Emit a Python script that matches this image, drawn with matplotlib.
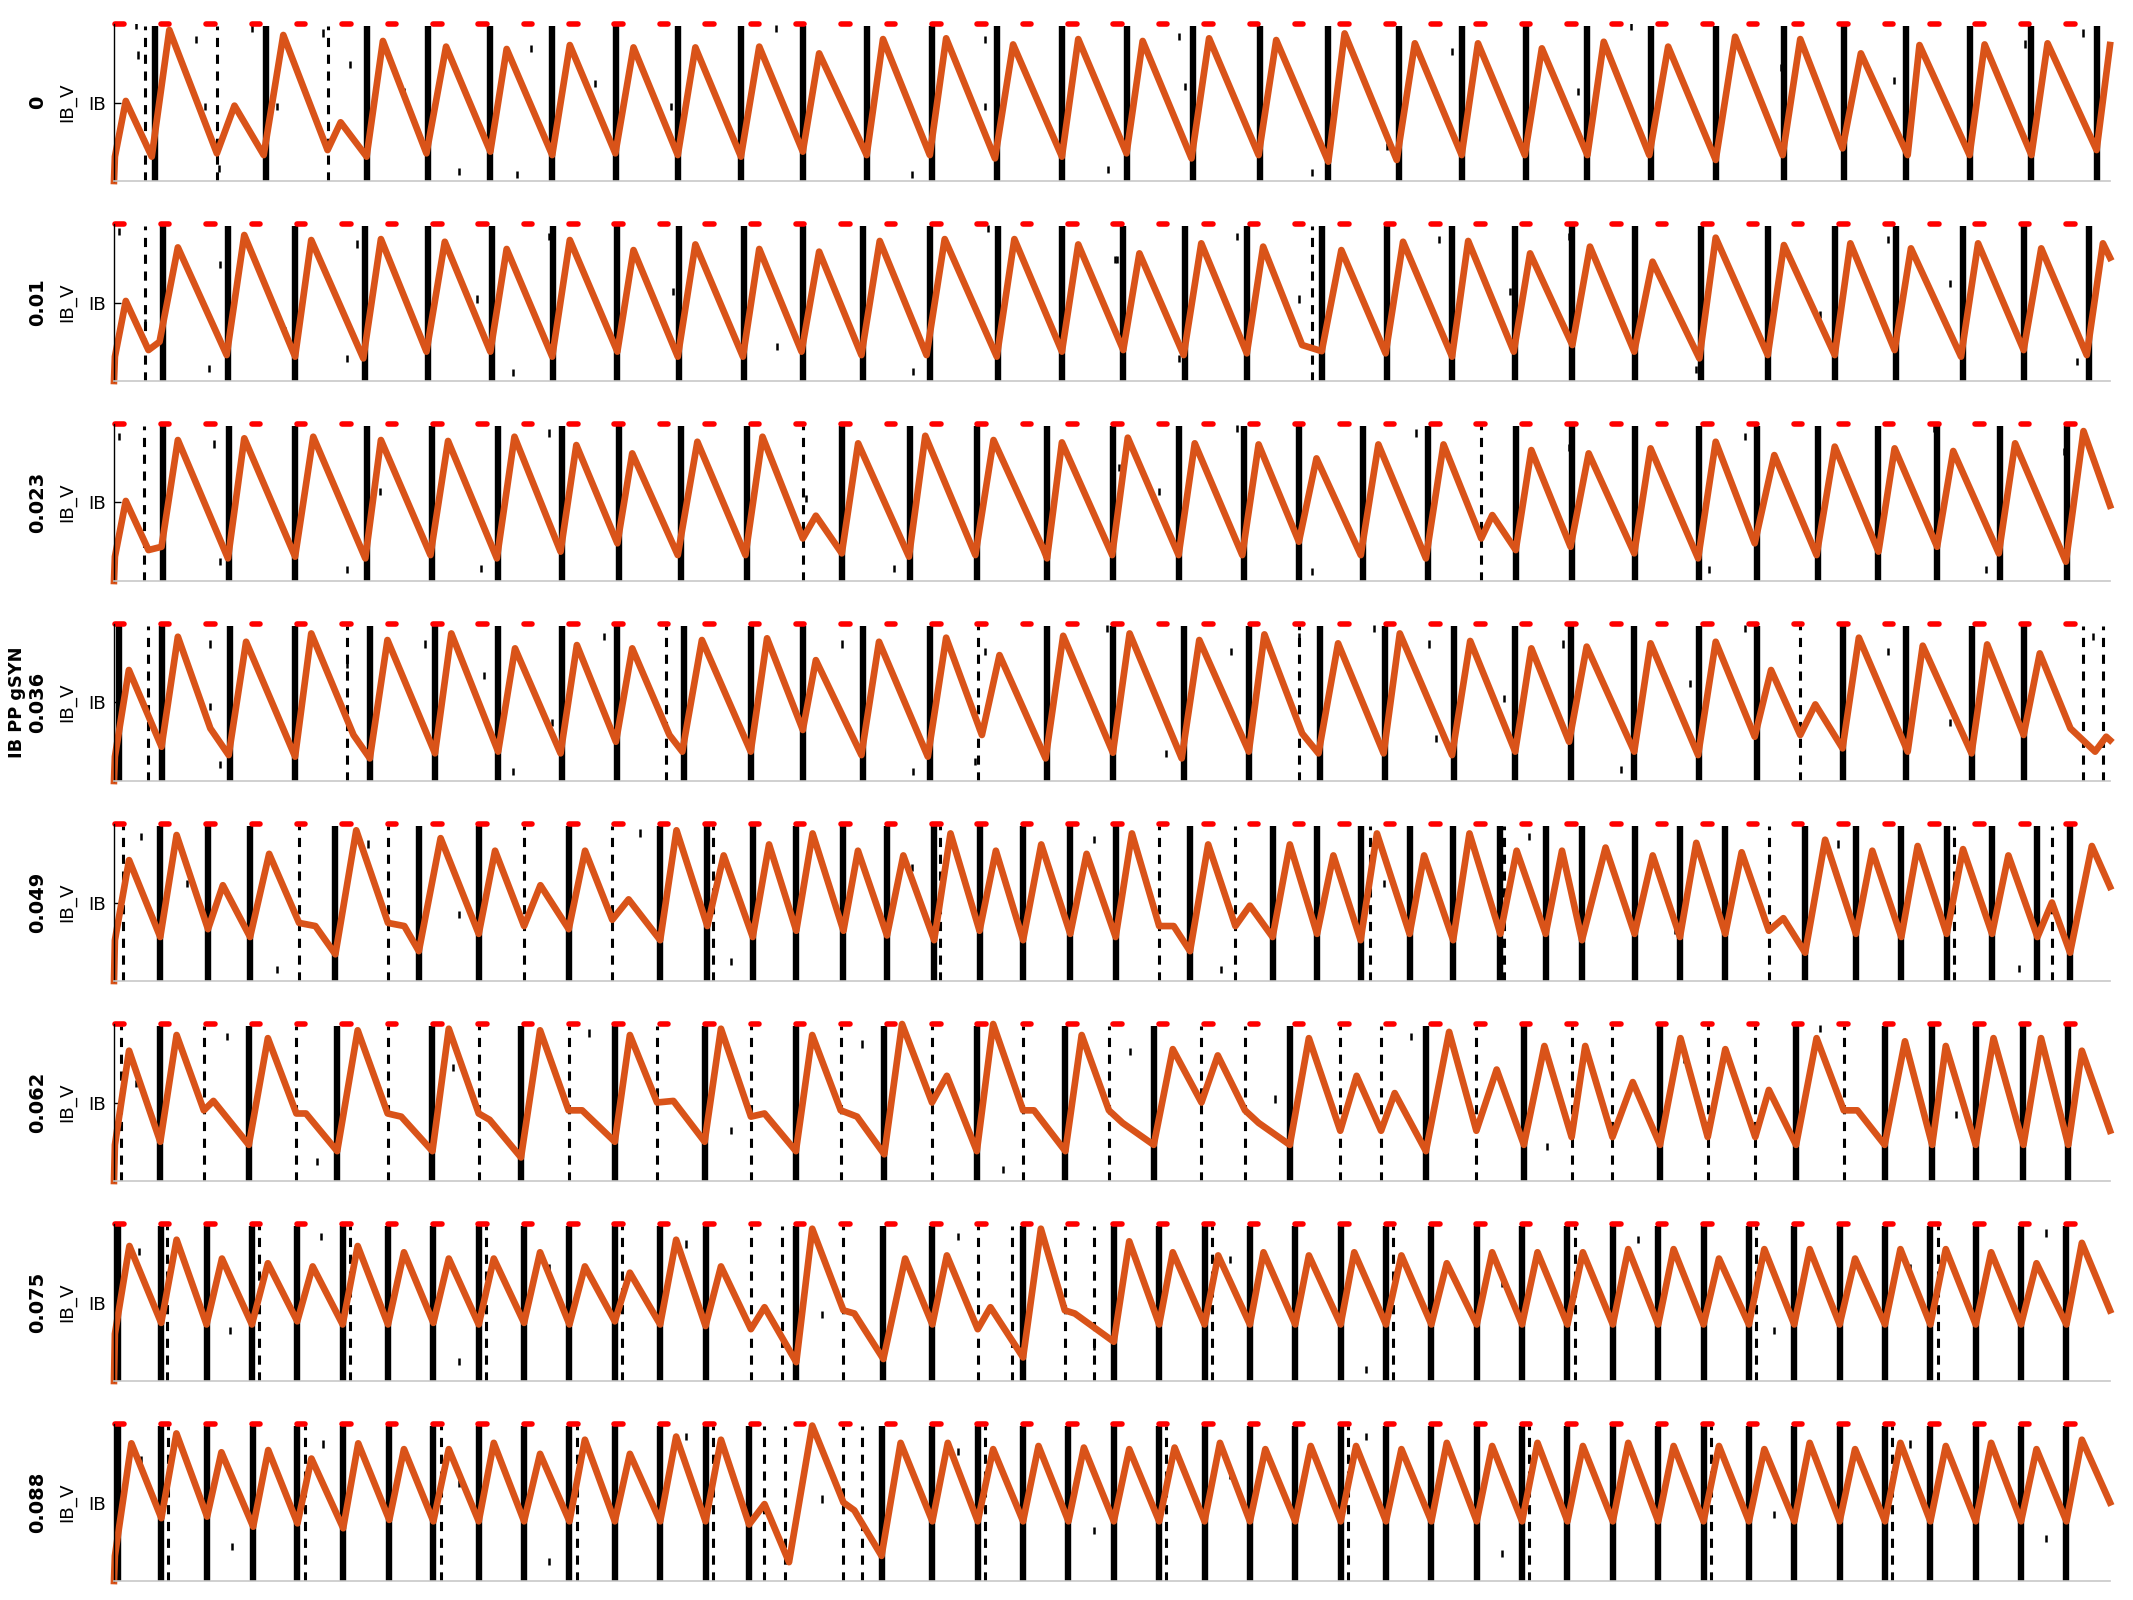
import matplotlib.pyplot as plt

# IB PP gSYN values, one panel each
gsyn = ["0", "0.01", "0.023", "0.036", "0.049", "0.062", "0.075", "0.088"]

# stimulus pulse onsets (ms)
stim = [0, 25, 50, 75, 100, 125, 150, 175, 200, 225, 250, 275, 300, 325, 350,
        375, 400, 425, 450, 475, 500, 525, 550, 575, 600, 625, 650, 675, 700,
        725, 750, 775, 800, 825, 850, 875, 900, 925, 950, 975, 1000, 1025,
        1050, 1075]

# IB_V trace (time ms, scaled voltage) read as peaks / troughs
trace0 = [(0, 0), (0.5, .155), (6.5, .51), (20.8, .155), (30.5, .962), (56.7, .176),
          (66.4, .48), (82.5, .165), (93.3, .93), (117.7, .197), (124.9, .374),
          (139.2, .155), (148.2, .892), (172.2, .176), (183, .856), (207.4, .187),
          (216.4, .841), (241.5, .165), (251.2, .866), (276.3, .176), (286.3, .851),
          (310.7, .165), (320.4, .851), (345.5, .155), (355.6, .856), (379.6, .187),
          (388.6, .813), (414.8, .165), (423.8, .904), (449.6, .165), (458.6, .909),
          (485.5, .144), (495.5, .870), (522.4, .155), (531.4, .904), (558, .176),
          (566.9, .892), (593.8, .144), (603.5, .909), (630.8, .165), (640.5, .898),
          (669.2, .123), (678.2, .94), (706.9, .134), (716.9, .877), (742.7, .165),
          (751.7, .877), (777.5, .165), (786.9, .845), (812, .165), (821, .887),
          (846.1, .165), (856.5, .856), (882.7, .134), (893.4, .919), (919.6, .165),
          (929.3, .904), (952.6, .208), (962.7, .813), (988.5, .165), (995, .866),
          (1022.6, .165), (1030.9, .870), (1056.7, .165), (1065.6, .877),
          (1092.6, .197), (1100, .866)]
trace1 = [(0, 0), (0.5, .155), (6.5, .51), (19, .197), (25.1, .25), (35.2, .851),
          (62.1, .165), (71.8, .93), (99.8, .155), (108.7, .898), (137.4, .144),
          (147.1, .904), (172.2, .187), (182.3, .887), (207.4, .187), (216.4, .841),
          (241.5, .155), (251.2, .898), (277.4, .187), (286.3, .834), (310.7, .155),
          (320.4, .87), (346.6, .155), (355.6, .841), (378.9, .187), (388.6, .824),
          (411.9, .165), (422, .892), (447.8, .165), (457.8, .904), (486.5, .155),
          (496.2, .904), (522.4, .187), (531.4, .870), (556.2, .197), (565.1, .813),
          (589.5, .165), (599.2, .877), (624.3, .176), (633.3, .856), (654.8, .229),
          (665.6, .19), (676.4, .834), (700.8, .176), (710.4, .887), (737.4, .155),
          (746.3, .892), (771.4, .187), (780.4, .813), (803.7, .229), (813.4, .856),
          (837.8, .187), (847.9, .76), (873.7, .144), (882.7, .913), (911.4, .165),
          (920.3, .866), (948.3, .165), (956.9, .877), (981.3, .197), (990.3, .845),
          (1017.9, .155), (1027.3, .877), (1052.4, .197), (1062.1, .845),
          (1087.2, .165), (1096.1, .877), (1100, .785)]
trace2 = [(0, 0), (0.5, .155), (6.5, .51), (19, .197), (26.2, .218), (35.2, .898),
          (62.8, .144), (71.8, .909), (99.8, .155), (109.8, .919), (138.5, .144),
          (147.1, .898), (174.4, .165), (184.1, .892), (211, .144), (220.7, .919),
          (246.1, .187), (254.8, .866), (277.4, .24), (285.6, .813), (310.7, .165),
          (321.5, .887), (348, .165), (357.4, .919), (379.6, .271), (386.8, .416),
          (401.1, .176), (410.1, .877), (438.1, .155), (447.1, .925), (474.7, .165),
          (484.7, .898), (512.4, .197), (514.2, .144), (522.4, .883), (550.1, .165),
          (558.7, .913), (586.7, .165), (595.6, .877), (621.8, .165), (630.8, .87),
          (653, .25), (662.7, .781), (687.1, .165), (696.8, .87), (723, .144),
          (732.7, .87), (753.5, .271), (759.6, .42), (772.5, .197), (781.1, .834),
          (802.7, .218), (812.7, .813), (837.8, .176), (846.8, .845), (873, .144),
          (882.7, .887), (904.2, .24), (915, .802), (938.3, .165), (948.3, .856),
          (972.4, .187), (981.3, .845), (1004.7, .218), (1013.6, .828),
          (1038.7, .176), (1047.7, .877), (1075.7, .123), (1085.4, .955),
          (1100, .48)]
trace3 = [(0, 0), (0.5, .155), (8.2, .707), (26.2, .218), (35.2, .919), (53.1, .335),
          (63.2, .165), (72.8, .887), (99.8, .155), (108.7, .94), (132, .293),
          (141, .144), (150.7, .898), (176.9, .176), (185.9, .94), (211.7, .187),
          (221, .845), (246.1, .176), (255.1, .866), (276.6, .25), (285.6, .845),
          (306.1, .293), (313.2, .187), (324, .898), (350.9, .187), (359.9, .909),
          (379.6, .325), (386.8, .77), (411.9, .165), (421.6, .887), (448.5, .155),
          (458.6, .913), (478.3, .293), (488, .802), (513.4, .144), (523.1, .925),
          (550.5, .18), (559.7, .94), (588.4, .144), (598.1, .898), (625.4, .187),
          (634, .934), (654.8, .303), (663.8, .176), (674.6, .877), (699.7, .176),
          (708.6, .94), (737.4, .165), (747.4, .892), (772.2, .187), (781.1, .845),
          (801.9, .25), (811.6, .856), (837.8, .187), (846.8, .877), (873, .165),
          (882.7, .887), (904.2, .282), (913.2, .707), (929.3, .293), (937.6, .488),
          (952.6, .208), (961.6, .913), (988.5, .187), (996.8, .862), (1023.7, .176),
          (1032.3, .87), (1052.4, .293), (1061.3, .813), (1078.2, .335),
          (1091.8, .187), (1097.9, .282), (1100, .26)]
trace4 = [(0, 0), (0.5, .26), (8.3, .77), (25.5, .28), (34.5, .93), (51.8, .33), (60, .61),
          (75, .28), (85.5, .81), (102, .37), (111, .35), (122, .17), (133.5, .96),
          (151, .37), (160, .35), (168, .19), (180, .91), (201, .30), (210, .83),
          (226, .35), (235, .61), (250.6, .33), (259.6, .83), (274.6, .39), (283.6, .52),
          (301, .26), (310, .96), (327, .35), (336, .8), (352, .28), (361, .87),
          (376, .32), (385, .94), (402, .32), (410, .83), (426, .29), (435, .8),
          (452, .26), (461, .94), (477, .32), (486, .83), (501, .26), (511, .87),
          (527, .3), (536, .81), (552, .28), (561, .94), (576, .35), (584, .35),
          (593, .19), (603, .87), (618, .35), (626, .48), (638.5, .28), (648, .87),
          (663, .3), (672, .8), (687, .26), (696, .94), (714, .3), (722, .8), (738, .26),
          (747, .94), (764, .3), (773, .83), (789, .3), (798, .83), (809, .26),
          (822, .85), (838, .3), (848, .8), (863, .28), (872, .88), (888, .3), (897, .82),
          (912, .32), (920, .4), (932, .18), (943, .9), (960, .3), (969, .83), (985, .28),
          (994, .86), (1010, .3), (1019, .84), (1035, .3), (1044, .8), (1060, .28),
          (1068, .5), (1078, .18), (1090, .86), (1100, .6)]
trace5 = [(0, 0), (0.5, .23), (8.3, .83), (25.5, .25), (34.5, .93), (49.5, .45),
          (54.8, .51), (74.3, .23), (84.8, .91), (100.5, .43), (105.8, .43), (123, .19),
          (134.3, .96), (150.8, .43), (158.3, .41), (175.5, .19), (184.5, .97),
          (201, .43), (207, .39), (224.3, .15), (234.8, .96), (250.5, .45), (258, .45),
          (276, .25), (284.3, .93), (299.3, .5), (308.3, .51), (325.5, .25),
          (334.5, .97), (351, .41), (358.5, .43), (375.8, .19), (384.8, .93),
          (400.5, .45), (409.5, .41), (424.5, .17), (434.3, 1.0), (450.8, .5),
          (459, .67), (475.5, .19), (484.5, 1.0), (501, .45), (507, .45), (524.3, .19),
          (533.3, .93), (548.3, .45), (555.8, .37), (573, .23), (583.5, .84),
          (599.3, .5), (608.3, .8), (623.3, .45), (630.8, .37), (648, .23), (658.5, .91),
          (675.8, .32), (684.8, .67), (698.3, .32), (705.8, .56), (723, .19),
          (735.8, .95), (750.8, .32), (762, .71), (777, .23), (788.3, .86), (803.3, .28),
          (810.8, .86), (825.8, .28), (837, .63), (852, .23), (863.3, .91), (878.3, .28),
          (888, .84), (904.5, .28), (912, .58), (927, .23), (938.3, .91), (953.3, .45),
          (960.8, .45), (975.8, .23), (987, .89), (1002, .23), (1009.5, .86),
          (1026, .23), (1035.8, .91), (1052.3, .23), (1062, .91), (1077, .23),
          (1084.5, .83), (1100, .32)]
trace6 = [(0, 0), (0.5, .3), (8.5, .86), (26, .37), (34.5, .9), (51, .36), (59.5, .78),
          (76, .36), (84.8, .75), (101, .38), (109.5, .73), (126, .36), (134.3, .86),
          (151, .36), (159.8, .82), (176, .37), (184.5, .78), (201, .36), (209.3, .78),
          (226, .37), (234.8, .82), (251, .36), (259.5, .73), (276, .38), (284.3, .69),
          (301, .36), (309.8, .9), (326, .35), (334.5, .73), (351, .33), (358.5, .47),
          (376, .12), (384.8, .97), (402, .45), (408, .43), (424, .14), (436, .78),
          (451, .36), (459, .8), (476, .33), (483, .47), (501, .15), (510.8, .97),
          (524, .45), (529.5, .43), (551, .25), (559.5, .89), (576, .36), (583.5, .82),
          (601, .36), (608.5, .8), (626, .36), (633.5, .82), (651, .36), (658.5, .8),
          (676, .36), (683.5, .82), (701, .36), (709.5, .8), (726, .36), (734.5, .75),
          (751, .36), (759.5, .82), (776, .36), (784.5, .82), (801, .36), (809.5, .82),
          (826, .36), (834.5, .84), (851, .36), (859.5, .84), (876, .36), (884.5, .78),
          (901, .36), (909.5, .84), (926, .36), (934.5, .84), (951, .36), (959.5, .78),
          (976, .36), (984.5, .84), (1001, .36), (1009.5, .84), (1026, .36),
          (1034.5, .82), (1051, .36), (1059.5, .75), (1076, .36), (1084.5, .88),
          (1100, .45)]
trace7 = [(0, 0), (0.5, .16), (9.6, .877), (26.1, .40), (34.4, .94), (51.3, .41),
          (59.2, .82), (76.7, .346), (85, .834), (101.1, .367), (108.8, .78),
          (126.3, .336), (134.6, .877), (151.7, .389), (159.8, .84), (176, .38),
          (184.5, .84), (201, .38), (209.3, .88), (226, .38), (234.8, .81), (251, .38),
          (259.5, .9), (276, .38), (284.3, .81), (301, .38), (309.8, .92), (326, .38),
          (334.5, .9), (350, .36), (358.5, .49), (372, .12), (384.8, .99), (402, .5),
          (408, .45), (423, .16), (433.5, .88), (451, .38), (459.5, .88), (476, .38),
          (484.5, .84), (501, .38), (509.5, .86), (526, .38), (534.5, .85), (551, .38),
          (559.5, .84), (576, .38), (584.5, .85), (601, .38), (609.5, .88), (626, .38),
          (634.5, .84), (651, .38), (659.5, .86), (676, .38), (684.5, .86), (701, .38),
          (709.5, .84), (726, .38), (734.5, .88), (751, .38), (759.5, .86), (776, .38),
          (784.5, .88), (801, .38), (809.5, .86), (826, .38), (834.5, .88), (851, .38),
          (859.5, .86), (876, .38), (884.5, .86), (901, .38), (909.5, .84), (926, .38),
          (934.5, .88), (951, .38), (959.5, .84), (976, .38), (984.5, .88), (1001, .38),
          (1009.5, .86), (1026, .38), (1034.5, .88), (1051, .38), (1059.5, .84),
          (1076, .38), (1084.5, .9), (1100, .5)]

# population bursts (dense columns of IB spikes), ms
bursts0 = [22.6, 83.6, 139.2, 173.3, 207.4, 241.5, 276.6, 310.7, 345.5, 379.6, 414.8,
           450.7, 486.5, 522.4, 558, 594.9, 631.5, 669.2, 707.9, 742.7, 777.9, 812,
           846.8, 882.7, 920.3, 953.3, 987.8, 1022.6, 1056.7, 1092.6]
bursts1 = [26.9, 62.8, 99.8, 138.1, 173.3, 208.5, 242.2, 277.4, 311.4, 347.3, 379.6,
           412.6, 449.6, 487.2, 522.4, 556.2, 590.2, 624.3, 665.6, 701.5, 737.4,
           772.2, 803.7, 838.5, 874.4, 911.4, 948.3, 982.1, 1019, 1052.4, 1088.3]
bursts2 = [26.9, 63.2, 99.8, 139.2, 175.1, 211.7, 246.9, 278.1, 312.5, 349.1, 401.1,
           438.8, 475.8, 514.2, 550.5, 586.7, 622.5, 653, 688.2, 724.1, 772.5, 803.7,
           838.5, 873.7, 905.3, 939, 972.4, 1004.7, 1039.5, 1076.4]
bursts3 = [2.9, 26.2, 63.9, 99.8, 141, 176.9, 211.7, 246.9, 277.4, 314.3, 350.9, 379.6,
           412.6, 449.6, 514.2, 550.8, 589.5, 625.4, 664.9, 700.4, 738.4, 772.2,
           802.7, 837.8, 873.7, 905.3, 952.6, 987.8, 1023.7, 1052.4]
bursts4 = [25.5, 51.8, 75, 122, 168, 201, 250.6, 301, 327, 352, 376, 402, 426, 452,
           477, 501, 527, 552, 593, 638.5, 663, 687, 714, 738, 764, 789, 809, 838, 863,
           888, 932, 960, 985, 1010, 1035, 1060, 1078]
bursts5 = [25.5, 74.3, 123, 175.5, 224.3, 276, 325.5, 375.8, 424.5, 475.5, 524.3, 573,
           648, 723, 777, 852, 927, 975.8, 1002, 1026, 1052.3, 1077]
bursts6 = [2, 26, 51, 76, 101, 126, 151, 176, 201, 226, 251, 276, 301, 326, 376, 424,
           451, 501, 551, 576, 601, 626, 651, 676, 701, 726, 751, 776, 801, 826, 851,
           876, 901, 926, 951, 976, 1001, 1026, 1051, 1076]
bursts7 = [2, 26.1, 51.3, 76.7, 101.1, 126.3, 151.7, 176, 201, 226, 251, 276, 301, 326,
           350, 423, 451, 476, 501, 526, 551, 576, 601, 626, 651, 676, 701, 726, 751,
           776, 801, 826, 851, 876, 901, 926, 951, 976, 1001, 1026, 1051, 1076]

# sparser columns (partial bursts), ms
partial0 = [17, 57, 118]
partial1 = [17.2, 660.2]
partial2 = [16.5, 379.6, 753.5]
partial3 = [19, 128.5, 304.3, 476, 653, 929.3, 1085, 1096]
partial4 = [5, 102, 151, 226, 274.6, 330, 455, 576, 618, 692, 766, 912, 1014, 1068]
partial5 = [4, 49.5, 100.5, 150.8, 201, 250.5, 299.3, 351, 400.5, 450.8, 501, 548.3,
            599.3, 623.3, 675.8, 698.3, 750.8, 803.3, 825.8, 878.3, 904.5, 953.3]
partial6 = [29, 80, 130, 205, 280, 351, 368, 402, 476, 495, 524, 540, 605, 705, 805,
            905, 1005]
partial7 = [30, 105, 180, 255, 330, 358, 370, 402, 412, 480, 580, 680, 780, 880, 980]

# isolated spikes: time (ms) and row height (0-1)
spk0_t = [12, 13, 45, 50, 58, 76, 90, 115, 130, 160, 190, 222, 230, 265, 307, 365,
          440, 480, 480, 548, 586.7, 590, 631, 660, 701.5, 737.4, 807, 836, 918.6,
          981, 1053, 1085, 1093]
spk0_y = [.97, .78, .88, .45, .06, .95, .45, .92, .72, .55, .04, .02, .82, .6, .45, .95,
          .02, .88, .45, .05, .9, .58, .73, .03, .2, .8, .55, .96, .7, .62, .85, .92, .05]
spk1_t = [2.9, 17.2, 52.4, 58.5, 94.4, 128.5, 133.8, 200.2, 220, 239.7, 308, 365.3,
          440.6, 481.9, 551.8, 552.6, 586.7, 619, 653, 730.2, 769.6, 802, 871.9, 940,
          977.8, 1011.8, 1081.8]
spk1_y = [.93, .35, .06, .72, .3, .12, .85, .5, .03, .9, .55, .2, .04, .95, .75, .75,
          .12, .9, .5, .88, .55, .9, .05, .4, .88, .6, .1]
spk2_t = [2.9, 54.9, 58.5, 128.5, 146.4, 202, 239.7, 381.4, 429.9, 553.6, 575.9, 619,
          660.2, 717.6, 802, 879, 898.8, 938.3, 1002.9, 1031.6, 1074.6]
spk2_y = [.9, .85, .1, .05, .55, .06, .92, .5, .06, .7, .55, .95, .04, .92, .83, .05,
          .9, .1, .95, .05, .8]
spk3_t = [53.1, 53.1, 58.5, 128.5, 171.5, 203.8, 220, 241.5, 270.2, 350, 401.1, 440.6,
          474.7, 480.1, 547.2, 579.5, 615.4, 653, 694.3, 724.8, 728.4, 766, 798.4,
          830.6, 868.3, 898.8, 977.8, 1011.8, 1053, 1090.8]
spk3_y = [.85, .45, .08, .72, .85, .65, .04, .35, .9, .9, .85, .04, .1, .8, .95, .15,
          .8, .9, .95, .85, .25, .5, .85, .05, .6, .95, .8, .35, .05, .9]
spk4_t = [15, 40, 90, 140, 190, 290, 340, 440, 540, 610, 700, 780, 860, 950, 1050]
spk4_y = [.9, .6, .05, .85, .4, .92, .1, .7, .88, .05, .6, .9, .3, .85, .06]
spk5_t = [12, 62, 112, 187, 262, 340, 412, 490, 560, 640, 715, 790, 865, 940, 1015]
spk5_y = [.6, .9, .1, .7, .92, .3, .85, .05, .8, .5, .9, .2, .75, .95, .4]
spk6_t = [14, 64, 114, 190, 240, 315, 390, 465, 540, 615, 690, 765, 840, 915, 990, 1065]
spk6_y = [.8, .3, .9, .1, .7, .85, .4, .9, .2, .75, .05, .6, .88, .3, .7, .92]
spk7_t = [15, 65, 115, 190, 240, 315, 390, 465, 540, 615, 690, 765, 840, 915, 990, 1065]
spk7_y = [.75, .2, .85, .6, .1, .9, .5, .8, .3, .65, .9, .15, .7, .4, .85, .25]

traces = [trace0, trace1, trace2, trace3, trace4, trace5, trace6, trace7]
bursts = [bursts0, bursts1, bursts2, bursts3, bursts4, bursts5, bursts6, bursts7]
partials = [partial0, partial1, partial2, partial3, partial4, partial5, partial6, partial7]
spikes = [(spk0_t, spk0_y), (spk1_t, spk1_y), (spk2_t, spk2_y), (spk3_t, spk3_y),
          (spk4_t, spk4_y), (spk5_t, spk5_y), (spk6_t, spk6_y), (spk7_t, spk7_y)]

W, H = 2133, 1600
fig = plt.figure(figsize=(W / 200, H / 200), dpi=200)
plt.rcParams['font.family'] = 'DejaVu Sans'
orange = '#D95319'

for k in range(8):
    bottom_px = 181 + 200 * k
    ax = fig.add_axes([114 / W, 1 - bottom_px / H, 1996 / W, 157 / H])
    ax.set_xlim(0, 1100)
    ax.set_ylim(0, 1)

    # raster: dense bursts, partial columns, lone spikes
    ax.vlines(bursts[k], 0, 0.99, color='k', lw=2.3)
    ax.vlines(partials[k], 0, 0.99, color='k', lw=1.1, linestyles=(0, (3, 2.5)))
    st, sy = spikes[k]
    ax.vlines(st, sy, [v + 0.045 for v in sy], color='k', lw=0.9)

    tt = [p[0] for p in traces[k]]
    yy = [p[1] for p in traces[k]]
    ax.plot(tt, yy, color=orange, lw=2.4, solid_joinstyle='round', clip_on=False)

    red = ax.hlines([1] * len(stim), [s + 0.8 for s in stim], [s + 5.5 for s in stim],
                    color='red', lw=2.0, clip_on=False)
    red.set_capstyle('round')

    for side in ['top', 'right']:
        ax.spines[side].set_visible(False)
    ax.spines['bottom'].set_color('#c8c8c8')
    ax.spines['bottom'].set_linewidth(0.6)
    ax.spines['left'].set_linewidth(0.5)
    ax.set_xticks([])
    ax.set_yticks([0.5])
    ax.set_yticklabels(['IB'])
    ax.tick_params(axis='y', direction='in', length=2.5, width=0.5, labelsize=6.6, pad=3)

    yc = 1 - (bottom_px - 78.5) / H
    fig.text(38 / W, yc, gsyn[k], rotation=90, fontsize=7, fontweight='bold',
             ha='center', va='center')
    fig.text(67 / W, yc, 'IB_V', rotation=90, fontsize=6.6, ha='center', va='center')
    if k == 3:
        fig.text(17 / W, yc, 'IB PP gSYN', rotation=90, fontsize=6.4,
                 fontweight='bold', ha='center', va='center')

fig.savefig('out.png', dpi=200)
